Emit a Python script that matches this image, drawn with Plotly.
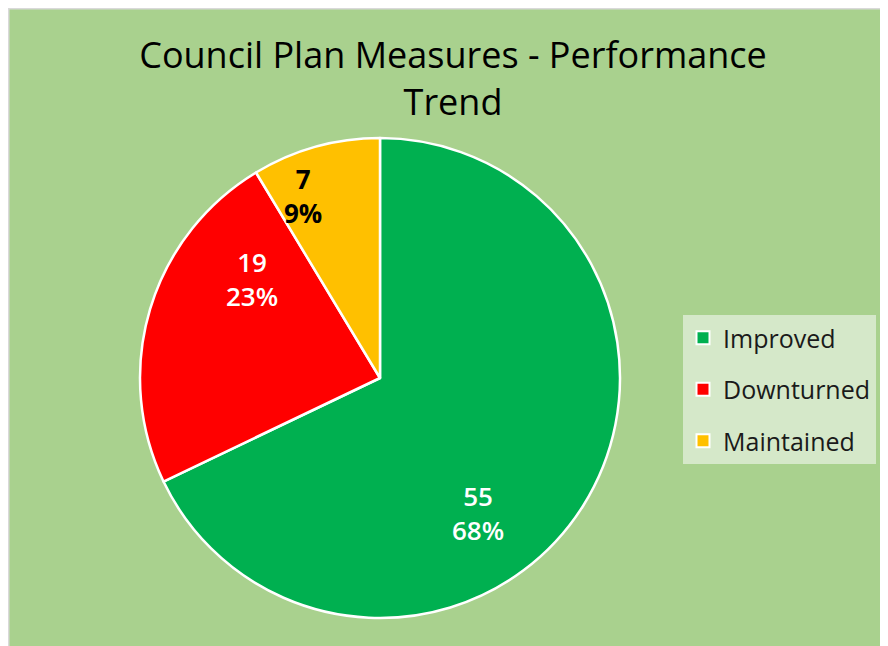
import plotly.graph_objects as go

labels = ["Improved", "Downturned", "Maintained"]
values = [55, 19, 7]
colors = ["#00b050", "#ff0000", "#ffc000"]
text_colors = ["white", "white", "black"]
text_weight = [600, 600, 700]

# page is offset by the 8px body margin; positions are in figure pixels
W, H = 888, 646
OFF = 8
label_pos = [(478, 513), (252, 279), (303, 196)]  # page pixels of label centres

total = sum(values)
fig = go.Figure()
fig.add_trace(go.Pie(
    labels=labels, values=values, sort=False, direction="clockwise", rotation=0,
    marker=dict(colors=colors, line=dict(color="white", width=2.5)),
    textinfo="none", hoverinfo="label+value+percent",
    domain=dict(x=[(140 - OFF) / W, (620 - OFF) / W],
                y=[(H - (618 - OFF)) / H, (H - (138 - OFF)) / H]),
    showlegend=False,
))
# legend proxies (one per category so the spacing can be set)
for i, (lab, col) in enumerate(zip(labels, colors)):
    fig.add_trace(go.Scatter(
        x=[None], y=[None], mode="markers", name=lab, legendgroup=f"g{i}",
        marker=dict(symbol="square", size=13, color=col, line=dict(color="white", width=2)),
    ))

annotations = []
for v, c, wt, (px, py) in zip(values, text_colors, text_weight, label_pos):
    pct = round(100 * v / total)
    annotations.append(dict(
        text=f"{v}<br>{pct}%", x=(px - OFF) / W, y=1 - (py - OFF) / H, xref="paper", yref="paper",
        xanchor="center", yanchor="middle", showarrow=False,
        font=dict(family="Open Sans", size=26, color=c, weight=wt),
    ))

fig.update_layout(
    width=W, height=H,
    margin=dict(l=0, r=0, t=0, b=0),
    paper_bgcolor="#a9d18e", plot_bgcolor="rgba(0,0,0,0)",
    xaxis=dict(visible=False), yaxis=dict(visible=False),
    title=dict(text="Council Plan Measures - Performance<br>Trend", x=(453 - OFF) / W, xanchor="center",
               y=1 - 60 / H, yanchor="top",
               font=dict(family="Open Sans", size=36, color="black")),
    legend=dict(x=(683 - OFF) / W, y=1 - (315 - OFF) / H, xanchor="left", yanchor="top",
                bgcolor="#d5e8c9", borderwidth=0,
                font=dict(family="Open Sans", size=25, color="#1a1a1a"),
                tracegroupgap=16, traceorder="grouped"),
    annotations=annotations,
    shapes=[
        dict(type="line", xref="paper", yref="paper", x0=0, x1=1, y0=1, y1=1,
             line=dict(color="#d9d9d9", width=3)),
        dict(type="line", xref="paper", yref="paper", x0=0, x1=0, y0=0, y1=1,
             line=dict(color="#d9d9d9", width=3)),
    ],
)
fig.write_html("out.html")
